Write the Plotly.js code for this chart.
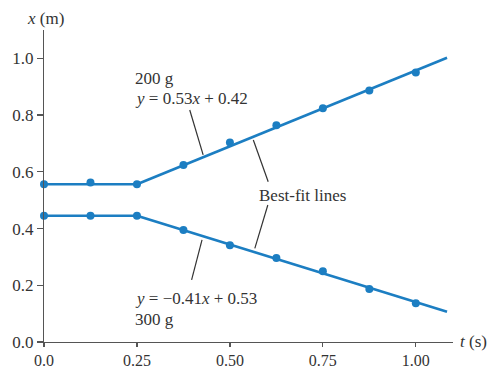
<!DOCTYPE html>
<html><head><meta charset="utf-8">
<script src="https://cdn.plot.ly/plotly-3.0.1.min.js"></script>
<style>html,body{margin:0;padding:0;background:#fff}#c{width:487px;height:369px}</style>
</head><body><div id="c"></div>
<script>
// data
const t = [0, 0.125, 0.25, 0.375, 0.5, 0.625, 0.75, 0.875, 1.0];
const x200 = [0.556, 0.562, 0.556, 0.624, 0.703, 0.764, 0.824, 0.887, 0.950];
const x300 = [0.445, 0.445, 0.445, 0.395, 0.341, 0.296, 0.249, 0.187, 0.137];
const flatT = [0, 0.25];
const flat200 = [0.556, 0.556];
const flat300 = [0.445, 0.445];
const fitT = [0.25, 1.084];
const fit200 = [0.556, 1.002];
const fit300 = [0.445, 0.107];
const xTicks = [0, 0.25, 0.5, 0.75, 1.0];
const xTickText = ['0.0', '0.25', '0.50', '0.75', '1.00'];
const yTicks = [0, 0.2, 0.4, 0.6, 0.8, 1.0];
const yTickText = ['0.0', '0.2', '0.4', '0.6', '0.8', '1.0'];

const blue = 'rgb(28,126,194)';
const txt = '#333';
const serif = 'Liberation Serif, Times New Roman, serif';
const fs = 17;

function lineTrace(xs, ys) {
  return {x: xs, y: ys, mode: 'lines', line: {color: blue, width: 2.6}, hoverinfo: 'skip', cliponaxis: false};
}
function ptTrace(ys) {
  return {x: t, y: ys, mode: 'markers', marker: {color: blue, size: 8}, cliponaxis: false};
}
const data = [
  lineTrace(flatT, flat200), lineTrace(fitT, fit200),
  lineTrace(flatT, flat300), lineTrace(fitT, fit300),
  ptTrace(x200), ptTrace(x300)
];

const ln = {type: 'line', xref: 'x', yref: 'y', line: {color: '#333', width: 1.2}};
const shapes = [
  Object.assign({x0: 0.392, y0: 0.818, x1: 0.428, y1: 0.660}, ln),
  Object.assign({x0: 0.563, y0: 0.712, x1: 0.603, y1: 0.565}, ln),
  Object.assign({x0: 0.602, y0: 0.483, x1: 0.567, y1: 0.330}, ln),
  Object.assign({x0: 0.425, y0: 0.360, x1: 0.397, y1: 0.219}, ln)
];

function ann(text, ax, ay, anchor) {
  return {text: text, x: ax, y: ay, xref: 'x', yref: 'y', showarrow: false,
          xanchor: anchor || 'left', yanchor: 'middle', font: {family: serif, size: fs, color: txt}};
}
const annotations = [
  ann('200 g', 0.240, 0.928),
  ann('<i>y</i> = 0.53<i>x</i> + 0.42', 0.240, 0.857),
  ann('Best-fit lines', 0.695, 0.518, 'center'),
  ann('<i>y</i> = −0.41<i>x</i> + 0.53', 0.240, 0.155),
  ann('300 g', 0.240, 0.078),
  {text: '<i>x</i> (m)', xref: 'paper', yref: 'paper', x: (45 - 44) / 409, y: (369 - 27 - 19) / 312,
   xanchor: 'center', yanchor: 'middle', showarrow: false, font: {family: serif, size: fs, color: txt}},
  {text: '<i>t</i> (s)', xref: 'paper', yref: 'paper', x: (473 - 44) / 409, y: (369 - 27 - 341) / 312,
   xanchor: 'center', yanchor: 'middle', showarrow: false, font: {family: serif, size: fs, color: txt}}
];

const axBase = {showgrid: false, zeroline: false, showline: true, linecolor: '#555', linewidth: 1.2,
  ticks: 'outside', ticklen: 6, tickcolor: '#555', tickwidth: 1.2,
  tickfont: {family: serif, size: fs, color: txt}, fixedrange: true};

const layout = {
  width: 487, height: 369,
  margin: {l: 44, r: 34, t: 30, b: 27, pad: 0},
  paper_bgcolor: '#fff', plot_bgcolor: '#fff',
  showlegend: false,
  xaxis: Object.assign({}, axBase, {range: [0, 1.1], tickmode: 'array', tickvals: xTicks, ticktext: xTickText,
    ticklen: 4, tickfont: {family: serif, size: 16, color: txt}}),
  yaxis: Object.assign({}, axBase, {range: [0, 1.1], tickmode: 'array', tickvals: yTicks, ticktext: yTickText}),
  shapes: shapes,
  annotations: annotations
};
Plotly.newPlot('c', data, layout, {displayModeBar: false, staticPlot: true});
</script></body></html>
